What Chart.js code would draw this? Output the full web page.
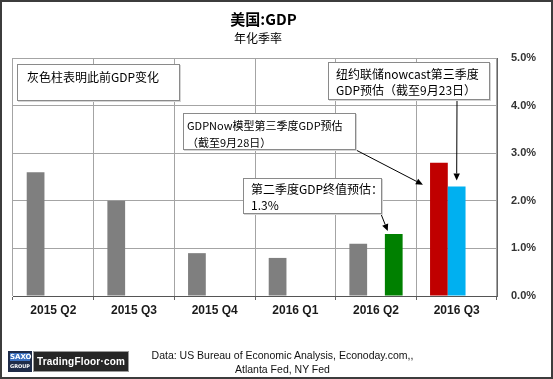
<!DOCTYPE html>
<html><head><meta charset="utf-8">
<script src="https://cdn.jsdelivr.net/npm/chart.js@4/dist/chart.umd.min.js"></script>
<style>
html,body{margin:0;padding:0;background:#fff;}
#wrap{position:relative;width:553px;height:379px;overflow:hidden;background:#fff;}
#c{position:absolute;left:0;top:0;}
.frame{position:absolute;left:0;top:0;width:553px;height:379px;box-sizing:border-box;border:2px solid #3c3c3c;pointer-events:none;}
.note{position:absolute;box-sizing:border-box;background:#fff;border:1px solid #8a8a8a;box-shadow:1px 1px 0 #d4d4d4;font-family:"Noto Sans CJK SC";font-size:12px;line-height:16px;color:#000;white-space:nowrap;}
.t1{position:absolute;left:0;width:527px;top:9px;text-align:center;font-family:"Noto Sans CJK SC";font-weight:bold;font-size:15px;line-height:20px;color:#000;}
.t2{position:absolute;left:0;width:516px;top:30px;text-align:center;font-family:"Noto Sans CJK SC";font-size:12px;line-height:16px;color:#000;}
.foot{position:absolute;left:130px;width:305px;top:348px;text-align:center;white-space:nowrap;font-family:"Liberation Sans";font-size:10.5px;line-height:14px;color:#111;}
.saxo{position:absolute;left:8px;top:351px;width:24px;height:21px;background:#1e2b48;}
.saxo .a{position:absolute;left:2px;top:2px;width:20px;height:8px;background:#3a6fc0;color:#fff;font:bold 7px "DejaVu Sans";line-height:8px;text-align:center;}
.saxo .b{position:absolute;left:2px;top:12px;width:20px;height:7px;color:#fff;font:bold 5px "DejaVu Sans";line-height:7px;text-align:center;}
.tf{position:absolute;left:33px;top:351px;width:96px;height:21px;box-sizing:border-box;background:#262626;border:1px solid #9a9a9a;color:#fff;font:bold 10px "Liberation Sans";line-height:19px;text-align:center;letter-spacing:0.2px;white-space:nowrap;}
</style></head>
<body>
<div id="wrap">
<canvas id="c" width="553" height="379"></canvas>
<div class="t1">美国:GDP</div>
<div class="t2">年化季率</div>
<div class="note" style="left:17px;top:64px;width:163px;height:37px;padding:4px 0 0 9px;">灰色柱表明此前GDP变化</div>
<div class="note" style="left:328px;top:62px;width:162px;height:38px;padding:3px 0 0 7px;">纽约联储nowcast第三季度<br>GDP预估（截至9月23日）</div>
<div class="note" style="left:183px;top:113px;width:173px;height:37px;padding:3px 0 0 3px;font-size:11px;line-height:17px;">GDPNow模型第三季度GDP预估<br>（截至9月28日）</div>
<div class="note" style="left:243px;top:178px;width:139px;height:36px;padding:2px 0 0 7px;">第二季度GDP终值预估：<br>1.3%</div>
<div class="saxo"><div class="a">SAXO</div><div class="b">GROUP</div></div>
<div class="tf">TradingFloor·com</div>
<div class="foot">Data: US Bureau of Economic Analysis, Econoday.com,,<br>Atlanta Fed, NY Fed</div>
<div class="frame"></div>
</div>
<script>
const categories = ['2015 Q2','2015 Q3','2015 Q4','2016 Q1','2016 Q2','2016 Q3'];
const gdpPrior = [2.6, 2.0, 0.9, 0.8, 1.1, null];
const nyFedNowcast = [null, null, null, null, null, 2.3];
const q2FinalEstimate = [null, null, null, null, 1.3, null];
const gdpNowQ3 = [null, null, null, null, null, 2.8];
const yTickLabels = ['0.0%','1.0%','2.0%','3.0%','4.0%','5.0%'];

function drawArrow(ctx, x1, y1, x2, y2) {
  const ang = Math.atan2(y2 - y1, x2 - x1);
  const L = 7, W = 3.2;
  const bx = x2 - L * Math.cos(ang), by = y2 - L * Math.sin(ang);
  ctx.save();
  ctx.strokeStyle = '#000'; ctx.fillStyle = '#000'; ctx.lineWidth = 1;
  ctx.beginPath(); ctx.moveTo(x1, y1); ctx.lineTo(bx, by); ctx.stroke();
  ctx.beginPath();
  ctx.moveTo(x2, y2);
  ctx.lineTo(bx + W * Math.sin(ang), by - W * Math.cos(ang));
  ctx.lineTo(bx - W * Math.sin(ang), by + W * Math.cos(ang));
  ctx.closePath(); ctx.fill();
  ctx.restore();
}

const arrowPlugin = {
  id: 'arrows',
  afterDatasetsDraw(chart) {
    const ctx = chart.ctx, y = chart.scales.y;
    const blue = chart.getDatasetMeta(1).data[5];
    const green = chart.getDatasetMeta(2).data[4];
    const red = chart.getDatasetMeta(3).data[5];
    drawArrow(ctx, 457, 100, blue.x, y.getPixelForValue(nyFedNowcast[5]) - 6);
    drawArrow(ctx, 356, 150, red.x - 16, y.getPixelForValue(gdpNowQ3[5]) + 22);
    drawArrow(ctx, 381, 214, green.x - 6, y.getPixelForValue(q2FinalEstimate[4]) - 3);
  }
};

new Chart(document.getElementById('c'), {
  type: 'bar',
  data: {
    labels: categories,
    datasets: [
      { label: 'Prior GDP', data: gdpPrior, backgroundColor: '#7f7f7f', stack: 'a' },
      { label: 'NY Fed nowcast', data: nyFedNowcast, backgroundColor: '#00b0f0', stack: 'b' },
      { label: 'Q2 final', data: q2FinalEstimate, backgroundColor: '#008000', stack: 'c' },
      { label: 'GDPNow', data: gdpNowQ3, backgroundColor: '#c00000', stack: 'a' }
    ]
  },
  options: {
    responsive: false,
    devicePixelRatio: 1,
    animation: false,
    layout: { padding: { left: 13, top: 58, right: 0, bottom: 60 } },
    datasets: { bar: { categoryPercentage: 0.66, barPercentage: 1.0 } },
    plugins: { legend: { display: false }, tooltip: { enabled: false }, title: { display: false } },
    scales: {
      x: {
        grid: { display: true, drawOnChartArea: true, color: '#a4a4a4', lineWidth: 1, offset: true, tickColor: '#666', tickLength: 4 },
        border: { color: '#555', width: 1 },
        ticks: { color: '#1a1a1a', padding: 3, font: { family: 'Liberation Sans', weight: 'bold', size: 12 } },
        afterFit: (s) => { s.height = 23; }
      },
      y: {
        position: 'right',
        min: 0, max: 5,
        grid: { display: true, drawOnChartArea: true, color: '#a4a4a4', lineWidth: 1, drawTicks: false },
        border: { color: '#666', width: 1 },
        ticks: { stepSize: 1, padding: 14, color: '#333',
          font: { family: 'Liberation Sans', weight: 'bold', size: 11 },
          callback: (v, i) => yTickLabels[i] },
        afterFit: (s) => { s.width = 56; }
      }
    }
  },
  plugins: [arrowPlugin]
});
</script>
</body></html>
